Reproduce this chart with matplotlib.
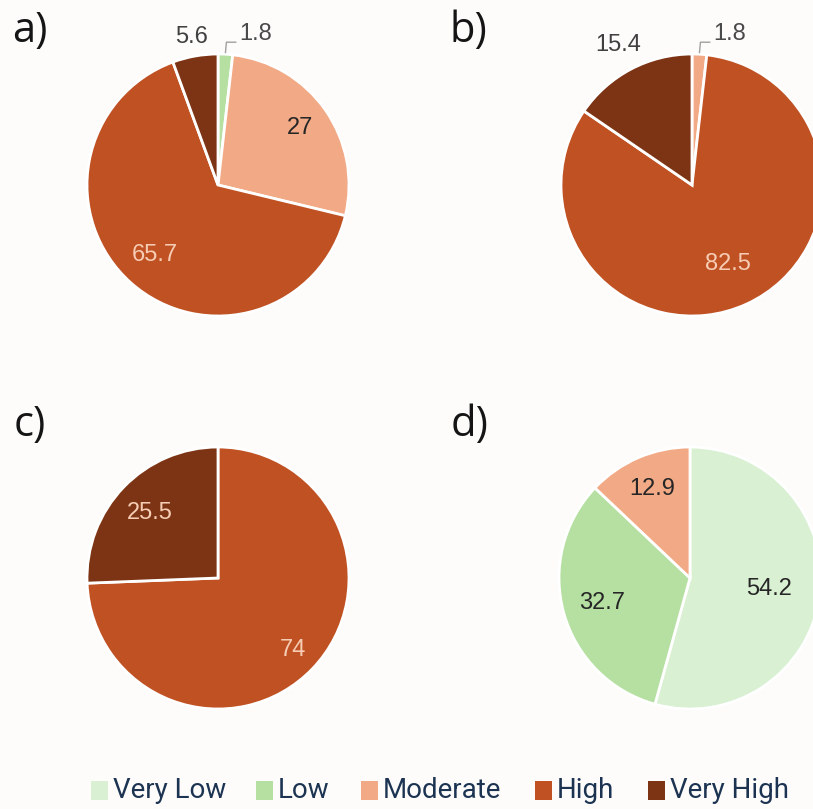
import numpy as np
import matplotlib
matplotlib.use('Agg')
import matplotlib.pyplot as plt
from matplotlib.patches import Rectangle

# class shares (%) for each panel, clockwise from 12 o'clock
categories = ["Very Low", "Low", "Moderate", "High", "Very High"]
colors = ["#d9f0d3", "#b5e0a2", "#f2aa86", "#c05123", "#7d3415"]

panel_a = [0.0, 1.8, 27.0, 65.7, 5.6]
panel_b = [0.0, 0.0, 1.8, 82.5, 15.4]
panel_c = [0.0, 0.0, 0.0, 74.0, 25.5]
panel_d = [54.2, 32.7, 12.9, 0.0, 0.0]
panel_labels = ["a)", "b)", "c)", "d)"]

W, H = 813, 809
BG = "#fdfcfb"
fig = plt.figure(figsize=(W / 100, H / 100), dpi=100, facecolor=BG)
ax = fig.add_axes([0, 0, 1, 1])
ax.set_facecolor(BG)

R = 131
VAL_FONT = "Liberation Sans"
# values, centre (px from top-left), label radius per class
panels = [
    (panel_a, (218, 185), [0, 0, 0.76, 0.72, 1.15]),
    (panel_b, (692, 185), [0, 0, 0, 0.66, 1.21]),
    (panel_c, (218, 578), [0, 0, 0, 0.79, 0.72]),
    (panel_d, (690, 578), [0.61, 0.70, 0.74, 0, 0]),
]
tag_pos = [(30, 31), (468, 31), (30, 425), (470, 425)]
light_text = {"High", "Very High"}

for (vals, (cx, cy), dist), tag, (tx, ty) in zip(panels, panel_labels, tag_pos):
    cy = H - cy
    keep = [i for i, v in enumerate(vals) if v > 0]
    v = [vals[i] for i in keep]
    ax.pie(v, colors=[colors[i] for i in keep], startangle=90,
           counterclock=False, center=(cx, cy), radius=R, frame=True,
           wedgeprops=dict(edgecolor="white", linewidth=2))

    total = sum(v)
    start = 90.0
    for i, val in zip(keep, v):
        span = 360.0 * val / total
        mid = np.radians(start - span / 2)
        start -= span
        txt = f"{val:g}"
        if val < 3:
            # thin slice: label sits outside with a leader line
            x0 = cx + R * np.cos(mid)
            y0 = cy + R * np.sin(mid)
            ax.plot([x0, x0 + 1, x0 + 11], [y0 + 1, y0 + 12, y0 + 12],
                    color="#a0a0a0", lw=1, solid_capstyle="butt")
            ax.text(x0 + 14, y0 + 20, txt, ha="left", va="center",
                    fontsize=17, color="#4a4a4a", family=VAL_FONT)
            continue
        r = dist[i] * R
        if dist[i] > 1:
            c = "#404040"
        elif categories[i] in light_text:
            c = "#f6cdb4"
        else:
            c = "#262626"
        ax.text(cx + r * np.cos(mid), cy + r * np.sin(mid), txt,
                ha="center", va="center", fontsize=17, color=c,
                family=VAL_FONT)

    ax.text(tx, H - ty, tag, ha="center", va="center", fontsize=30,
            color="#151515", family="Open Sans")

# legend along the bottom
leg_x = [91, 256, 361, 535, 648]
for x, name, col in zip(leg_x, categories, colors):
    ax.add_patch(Rectangle((x, H - 800), 17, 19, facecolor=col,
                           edgecolor="none"))
    ax.text(x + 22, H - 790, name, ha="left", va="center", fontsize=20,
            color="#1c3452", family="Roboto")

ax.set_xlim(0, W)
ax.set_ylim(0, H)
ax.set_aspect("auto")
ax.axis("off")

fig.savefig("out.png", dpi=100, facecolor=BG)
